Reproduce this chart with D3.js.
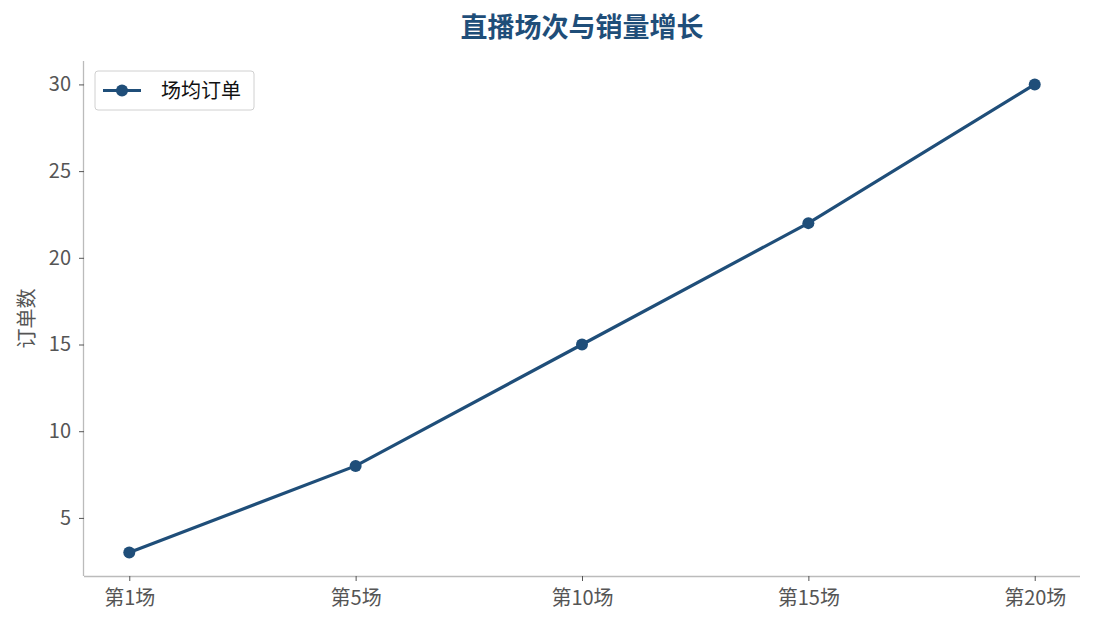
<!DOCTYPE html>
<html>
<head>
<meta charset="utf-8">
<script src="https://cdn.jsdelivr.net/npm/d3@7"></script>
<style>
  body { margin: 0; background: #fff; }
  text { font-family: "Noto Sans CJK SC", "Noto Sans", sans-serif; }
</style>
</head>
<body>
<script>
// data
var categories = ["第1场", "第5场", "第10场", "第15场", "第20场"];
var orders = [3, 8, 15, 22, 30];
var yTicks = [5, 10, 15, 20, 25, 30];
var seriesName = "场均订单";

var W = 1095, H = 629;
var m = { left: 84, right: 1080, top: 61, bottom: 576 };
var color = "#1f4e79";

var svg = d3.select("body").append("svg")
    .attr("width", W)
    .attr("height", H);

// scales, 5% margins like the original
var x = d3.scaleLinear()
    .domain([-0.2, categories.length - 1 + 0.2])
    .range([m.left, m.right]);
var yMin = d3.min(orders), yMax = d3.max(orders);
var pad = (yMax - yMin) * 0.05;
var y = d3.scaleLinear()
    .domain([yMin - pad, yMax + pad])
    .range([m.bottom, m.top]);

// title
svg.append("text")
    .attr("x", (m.left + m.right) / 2)
    .attr("y", 37)
    .attr("text-anchor", "middle")
    .style("font-size", "27px")
    .style("font-weight", "bold")
    .style("fill", color)
    .text("直播场次与销量增长");

// axes
var xAxis = svg.append("g")
    .attr("transform", "translate(0," + m.bottom + ")")
    .call(d3.axisBottom(x)
        .tickValues(d3.range(categories.length))
        .tickFormat(function (i) { return categories[i]; })
        .tickSize(5).tickPadding(10));

var yAxis = svg.append("g")
    .attr("transform", "translate(" + m.left + ",0)")
    .call(d3.axisLeft(y).tickValues(yTicks).tickSize(5).tickPadding(8));

[xAxis, yAxis].forEach(function (g) {
  g.select(".domain").attr("stroke", "#bbbbbb").attr("stroke-width", 1.3);
  g.selectAll(".tick line").attr("stroke", "#555").attr("stroke-width", 1);
  g.selectAll(".tick text")
      .style("font-size", "20px")
      .style("fill", "#555")
      .style("font-family", "'Noto Sans CJK SC', sans-serif");
});
// domain paths without outer ticks
xAxis.select(".domain").attr("d", "M" + m.left + ",0.5H" + m.right);
yAxis.select(".domain").attr("d", "M-0.5," + m.bottom + "V" + m.top);

// y label
svg.append("text")
    .attr("transform", "translate(34," + ((m.top + m.bottom) / 2) + ") rotate(-90)")
    .attr("text-anchor", "middle")
    .style("font-size", "20px")
    .style("fill", "#555")
    .text("订单数");

// line
var line = d3.line()
    .x(function (d, i) { return x(i); })
    .y(function (d) { return y(d); });

svg.append("path")
    .datum(orders)
    .attr("fill", "none")
    .attr("stroke", color)
    .attr("stroke-width", 3.2)
    .attr("d", line);

svg.selectAll("circle.pt")
    .data(orders)
    .enter().append("circle")
    .attr("class", "pt")
    .attr("cx", function (d, i) { return x(i); })
    .attr("cy", function (d) { return y(d); })
    .attr("r", 6)
    .attr("fill", color);

// legend
var lg = svg.append("g").attr("transform", "translate(95,71)");
lg.append("rect")
    .attr("width", 159).attr("height", 39)
    .attr("rx", 3)
    .attr("fill", "#fff")
    .attr("stroke", "#d0d0d0");
lg.append("line")
    .attr("x1", 8).attr("x2", 46)
    .attr("y1", 19.5).attr("y2", 19.5)
    .attr("stroke", color).attr("stroke-width", 3.2);
lg.append("circle")
    .attr("cx", 27).attr("cy", 19.5).attr("r", 6)
    .attr("fill", color);
lg.append("text")
    .attr("x", 66).attr("y", 26.5)
    .style("font-size", "20px")
    .style("fill", "#111")
    .text(seriesName);
</script>
</body>
</html>
